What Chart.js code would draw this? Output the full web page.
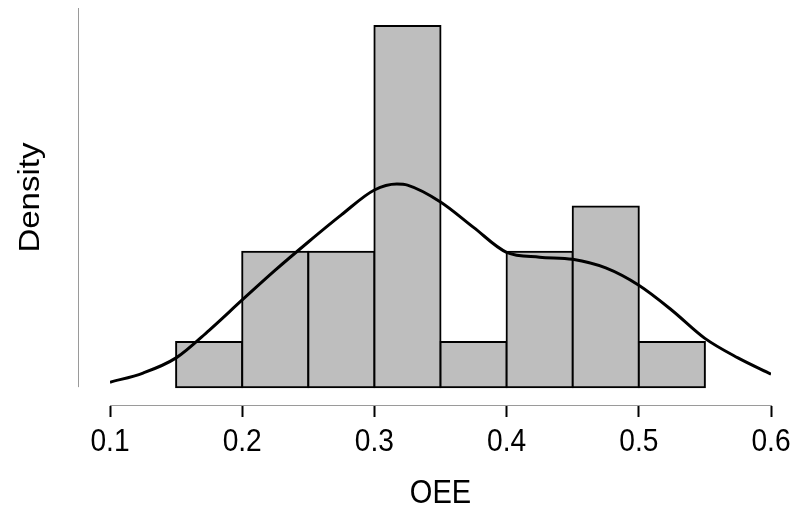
<!DOCTYPE html>
<html lang="en">
<head>
	<meta charset="UTF-8">
	<title>OEE Density</title>
	<script src="https://cdn.jsdelivr.net/npm/chart.js@4.4.1/dist/chart.umd.min.js"></script>
	<style>
		body { margin: 0; background: #fff; }
		canvas { display: block; }
	</style>
</head>
<body>
<canvas id="oeeChart" width="796" height="512"></canvas>

<script>

// histogram bins (centres) and density heights
var binCenters = [0.175, 0.225, 0.275, 0.325, 0.375, 0.425, 0.475, 0.525];
var binDensity = [0.833, 2.5, 2.5, 6.667, 0.833, 2.5, 3.333, 0.833];

// kernel density curve
var curveX = [0.1, 0.125, 0.15, 0.175, 0.2, 0.225, 0.25, 0.275, 0.3, 0.317, 0.325, 0.35, 0.375, 0.4, 0.425, 0.45, 0.475, 0.5, 0.525, 0.55, 0.575, 0.6];
var curveY = [0.09, 0.26, 0.54, 1.05, 1.61, 2.16, 2.68, 3.18, 3.64, 3.75, 3.73, 3.42, 2.95, 2.49, 2.40, 2.36, 2.20, 1.88, 1.42, 0.90, 0.54, 0.24];

var xTicks = [0.1, 0.2, 0.3, 0.4, 0.5, 0.6];
var xTitle = 'OEE';
var yTitle = 'Density';

var FONT = '"Liberation Sans", Arial, Helvetica, sans-serif';
var SQUEEZE = 0.88; // glyphs in the reference are narrower than normal

// draws text squeezed horizontally on the page (also when rotated)
function squeezedText(ctx, text, x, y, rotated) {
	ctx.save();
	ctx.translate(x, y);
	if (rotated) {
		ctx.rotate(-Math.PI / 2);
		ctx.scale(1, SQUEEZE);
	} else {
		ctx.scale(SQUEEZE, 1);
	}
	ctx.fillText(text, 0, 0);
	ctx.restore();
}

// y axis line (grey, no ticks), tick labels and titles
const axisExtras = {
	id: 'axisExtras',
	afterDraw(chart) {
		const ctx = chart.ctx;
		const xs = chart.scales.x;
		const ys = chart.scales.y;

		ctx.save();
		ctx.strokeStyle = '#9a9a9a';
		ctx.lineWidth = 1;
		ctx.beginPath();
		ctx.moveTo(78.5, ys.getPixelForValue(7));
		ctx.lineTo(78.5, ys.getPixelForValue(0));
		ctx.stroke();

		ctx.fillStyle = '#000';
		ctx.textAlign = 'center';
		ctx.textBaseline = 'middle';
		ctx.font = '32px ' + FONT;
		xTicks.forEach(function (t) {
			squeezedText(ctx, t.toFixed(1), xs.getPixelForValue(t), 442, false);
		});
		ctx.font = '33px ' + FONT;
		squeezedText(ctx, xTitle, xs.getPixelForValue(0.35), 494, false);
		squeezedText(ctx, yTitle, 31, ys.getPixelForValue(3.5), true);
		ctx.restore();
	}
};

const ctx = document.getElementById('oeeChart').getContext('2d');
const oeeChart = new Chart(ctx, {
	type: 'bar',
	data: {
		datasets: [{
			type: 'line',
			label: 'density',
			data: curveX.map(function (x, i) { return { x: x, y: curveY[i] }; }),
			borderColor: '#000',
			borderWidth: 3,
			pointRadius: 0,
			cubicInterpolationMode: 'monotone',
			fill: false,
			order: 0
		}, {
			label: 'histogram',
			data: binCenters.map(function (x, i) { return { x: x, y: binDensity[i] }; }),
			backgroundColor: '#bebebe',
			borderColor: '#000',
			borderWidth: 2,
			borderSkipped: false,
			inflateAmount: 1,
			barPercentage: 1,
			categoryPercentage: 1,
			grouped: false,
			order: 1
		}]
	},
	options: {
		responsive: false,
		animation: false,
		devicePixelRatio: 1,
		layout: {
			padding: { left: 110, right: 25, top: 8, bottom: 95 }
		},
		plugins: {
			legend: { display: false },
			tooltip: { enabled: false }
		},
		scales: {
			x: {
				type: 'linear',
				min: 0.1,
				max: 0.6,
				offset: false,
				afterBuildTicks: function (scale) {
					scale.ticks = xTicks.map(function (v) { return { value: v }; });
				},
				ticks: { display: false },
				grid: {
					offset: false,
					drawOnChartArea: false,
					drawTicks: true,
					tickLength: 12,
					tickColor: '#000',
					tickWidth: 2
				},
				border: { display: true, color: '#9a9a9a', width: 1 }
			},
			y: {
				display: false,
				min: -0.33,
				max: 7
			}
		}
	},
	plugins: [axisExtras]
});
</script>
</body>
</html>
